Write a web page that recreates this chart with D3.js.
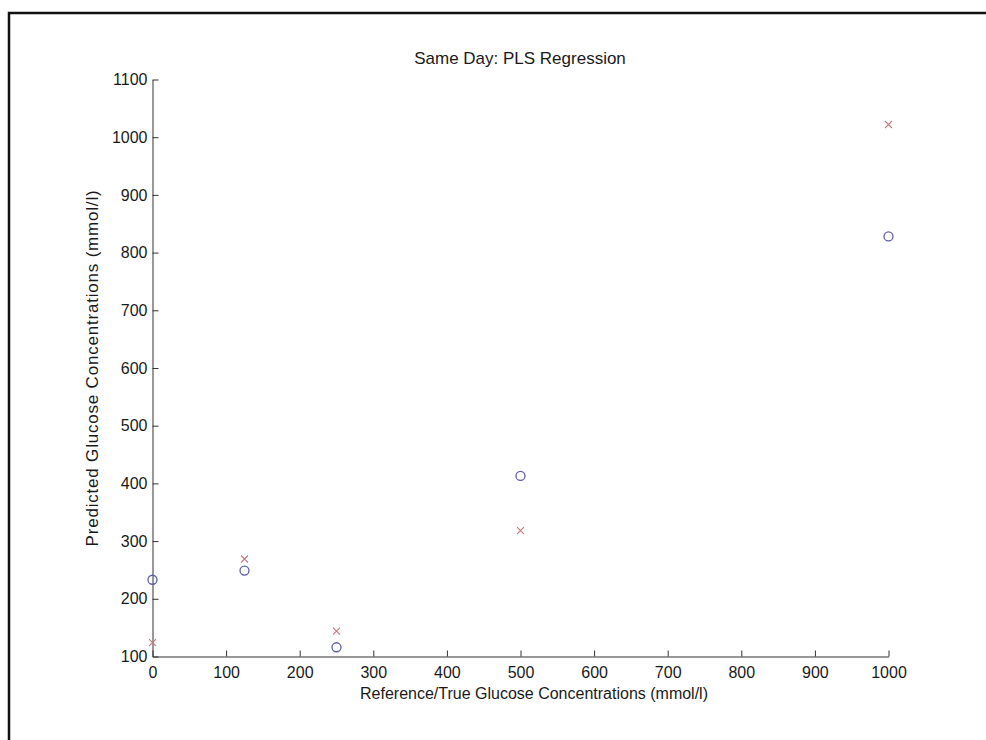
<!DOCTYPE html>
<html>
<head>
<meta charset="utf-8">
<script src="https://cdn.jsdelivr.net/npm/d3@7"></script>
<style>
  html, body { margin: 0; padding: 0; background: #fff; }
  svg { display: block; }
  text { font-family: "Liberation Sans", Arial, sans-serif; fill: #1a1a1a; }
</style>
</head>
<body>
<svg id="chart" width="986" height="740"></svg>
<script>
// Reference glucose concentrations (mmol/l)
const referenceConc = [0, 125, 250, 500, 1000];
// PLS predictions, two runs on the same day
const predictedCircles = [233, 249, 116, 413, 828];
const predictedCrosses = [124, 269, 144, 318, 1022];
const xTicks = [0, 100, 200, 300, 400, 500, 600, 700, 800, 900, 1000];
const yTicks = [100, 200, 300, 400, 500, 600, 700, 800, 900, 1000, 1100];

const titleText = "Same Day: PLS Regression";
const xLabel = "Reference/True Glucose Concentrations (mmol/l)";
const yLabel = "Predicted Glucose Concentrations (mmol/l)";

const svg = d3.select("#chart");
const W = 986, H = 740;
const fontStack = "'Liberation Sans', Arial, sans-serif";

// outer frame (left and top edges visible)
svg.append("path")
  .attr("d", `M9,${H} L9,13 L${W},13`)
  .attr("fill", "none").attr("stroke", "#111").attr("stroke-width", 2.5);

const margin = { left: 152.5, top: 79.5, right: 888.5, bottom: 656.5 };
const x = d3.scaleLinear().domain([0, 1000]).range([margin.left, margin.right]);
const y = d3.scaleLinear().domain([100, 1100]).range([margin.bottom, margin.top]);

const axisColor = "#333";
const tickLen = 6;
const fmt = d3.format("d");

// x axis with inward ticks
const gx = svg.append("g").attr("transform", `translate(0,${margin.bottom})`)
  .call(d3.axisBottom(x).tickValues(xTicks).tickFormat(fmt).tickSizeInner(-tickLen).tickSizeOuter(0).tickPadding(10));
gx.select(".domain").attr("stroke", axisColor);
gx.selectAll(".tick line").attr("stroke", axisColor);
gx.selectAll(".tick text").attr("font-size", 16).style("font-family", fontStack).attr("fill", "#1a1a1a");

// y axis with inward ticks
const gy = svg.append("g").attr("transform", `translate(${margin.left},0)`)
  .call(d3.axisLeft(y).tickValues(yTicks).tickFormat(fmt).tickSizeInner(-tickLen).tickSizeOuter(0).tickPadding(5));
gy.select(".domain").attr("stroke", axisColor);
gy.selectAll(".tick line").attr("stroke", axisColor);
gy.selectAll(".tick text").attr("font-size", 16).style("font-family", fontStack).attr("fill", "#1a1a1a");

// title and axis labels
svg.append("text").attr("x", 520).attr("y", 64).attr("text-anchor", "middle")
  .attr("font-size", 17).text(titleText);
svg.append("text").attr("x", 534).attr("y", 699).attr("text-anchor", "middle")
  .attr("font-size", 16).text(xLabel);
svg.append("text").attr("transform", `translate(98,368) rotate(-90)`)
  .attr("text-anchor", "middle").attr("font-size", 17).attr("letter-spacing", 0.8).text(yLabel);

// circle markers
svg.append("g").selectAll("circle")
  .data(referenceConc.map((r, i) => [r, predictedCircles[i]]))
  .join("circle")
  .attr("cx", d => x(d[0])).attr("cy", d => y(d[1])).attr("r", 4.5)
  .attr("fill", "none").attr("stroke", "#5a5fa8").attr("stroke-width", 1.3);

// cross markers
const s = 3.5;
svg.append("g").selectAll("path")
  .data(referenceConc.map((r, i) => [r, predictedCrosses[i]]))
  .join("path")
  .attr("d", d => {
    const cx = x(d[0]), cy = y(d[1]);
    return `M${cx - s},${cy - s}L${cx + s},${cy + s}M${cx - s},${cy + s}L${cx + s},${cy - s}`;
  })
  .attr("fill", "none").attr("stroke", "#c8787c").attr("stroke-width", 1.1);
</script>
</body>
</html>
